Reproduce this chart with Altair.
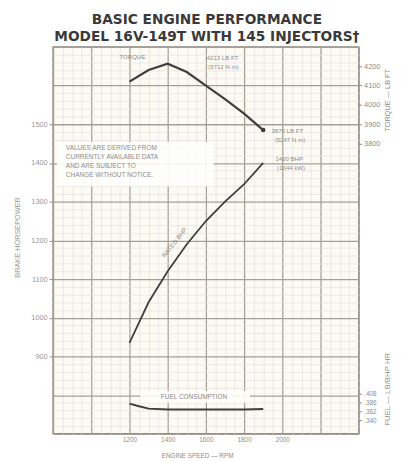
import altair as alt
import pandas as pd

# ---------------- data ----------------
rpm = [1200, 1300, 1400, 1500, 1600, 1700, 1800, 1900]
bhp = [935, 1040, 1120, 1190, 1250, 1300, 1345, 1400]
torque_lbft = [4120, 4180, 4213, 4170, 4100, 4030, 3955, 3870]
fuel_rpm = [1200, 1250, 1300, 1400, 1600, 1800, 1900]
fuel = [0.383, 0.376, 0.370, 0.368, 0.368, 0.368, 0.369]

x_ticks = [1200, 1400, 1600, 1800, 2000]
bhp_ticks = [900, 1000, 1100, 1200, 1300, 1400, 1500]
torque_ticks = [3800, 3900, 4000, 4100, 4200]
fuel_ticks = [0.340, 0.362, 0.386, 0.408]

title_lines = ["BASIC ENGINE PERFORMANCE", "MODEL 16V-149T WITH 145 INJECTORS\u2020"]
note_lines = ["VALUES ARE DERIVED FROM", "CURRENTLY AVAILABLE DATA",
              "AND ARE SUBJECT TO", "CHANGE WITHOUT NOTICE."]

label_text = ["TORQUE", "4213 LB FT", "(5712 N\u00b7m)", "3870 LB FT", "(5247 N\u00b7m)",
              "1400 BHP", "(1044 kW)"]
label_rpm = [1215, 1687, 1692, 2026, 2040, 2036, 2046]
label_bhp = [1675, 1670, 1649, 1482, 1459, 1409, 1387]

# ---------------- styling ----------------
MAJOR = "#a69f98"
MINOR = "#e4dfe4"
TXT = "#8c8c8c"
CURVE = "#3e3e3e"
FONT = "Liberation Sans"

def in_list(vals):
    return "indexof([" + ",".join(str(v) for v in vals) + "], datum.value) >= 0"

X = alt.X(
    "rpm:Q",
    title="ENGINE SPEED \u2014 RPM",
    scale=alt.Scale(domain=[800, 2400], nice=False, zero=False),
    axis=alt.Axis(
        values=list(range(800, 2401, 50)),
        labelExpr=in_list(x_ticks) + " ? datum.label : ''",
        format="d",
        grid=True,
        gridColor={"condition": {"test": "datum.value % 200 === 0", "value": MAJOR}, "value": MINOR},
        gridWidth={"condition": {"test": "datum.value % 200 === 0", "value": 1.3}, "value": 0.7},
        ticks=False, domain=False,
        labelFont=FONT, labelFontSize=6.5, labelColor=TXT, labelPadding=3,
        labelOverlap=False, labelFlush=False,
        titleFont=FONT, titleFontSize=6.5, titleColor=TXT, titleFontWeight="normal",
        titleX=147, titleY=22, titleAlign="center", titleBaseline="middle",
    ),
)

bhp_scale = alt.Scale(domain=[700, 1700], nice=False, zero=False)
Ybhp = alt.Y(
    "bhp:Q",
    title="BRAKE HORSEPOWER",
    scale=bhp_scale,
    axis=alt.Axis(
        orient="left",
        values=list(range(700, 1701, 20)),
        labelExpr=in_list(bhp_ticks) + " ? datum.label : ''",
        format="d",
        grid=True,
        gridColor={"condition": {"test": "datum.value % 100 === 0", "value": MAJOR}, "value": MINOR},
        gridWidth={"condition": {"test": "datum.value % 100 === 0", "value": 1.3}, "value": 0.7},
        tickOpacity={"condition": {"test": in_list(bhp_ticks), "value": 1}, "value": 0},
        tickSize=4, tickColor=TXT, domain=False,
        labelFont=FONT, labelFontSize=7.5, labelColor="#999999", labelPadding=2,
        labelOverlap=False, labelFlush=False,
        titleFont=FONT, titleFontSize=7.5, titleColor="#999999", titleFontWeight="normal",
        titleX=-36, titleY=194, titleAngle=270, titleAlign="center", titleBaseline="middle",
    ),
)
Ybhp_plain = alt.Y("bhp:Q", scale=bhp_scale, axis=None)

bhp_df = pd.DataFrame({"rpm": rpm, "bhp": bhp})
bhp_line = alt.Chart(bhp_df).mark_line(color=CURVE, strokeWidth=1.8).encode(x=X, y=Ybhp)

# note box
note_box = alt.Chart(pd.DataFrame({"rpm": [820], "rpm2": [1641], "bhp": [1340], "bhp2": [1454]})).mark_rect(
    color="#fefefc", opacity=0.9
).encode(x=X, x2="rpm2:Q", y=Ybhp_plain, y2="bhp2:Q")
note_text = alt.Chart(pd.DataFrame({"rpm": [867], "bhp": [1447]})).mark_text(
    align="left", baseline="top", font=FONT, fontSize=6.6, color=TXT, lineHeight=9.3
).encode(x=X, y=Ybhp_plain, text=alt.value(note_lines))

# fuel consumption label box
fuel_box = alt.Chart(pd.DataFrame({"rpm": [1256], "rpm2": [1831], "bhp": [781], "bhp2": [811]})).mark_rect(
    color="#fefefc", opacity=0.9
).encode(x=X, x2="rpm2:Q", y=Ybhp_plain, y2="bhp2:Q")
fuel_text = alt.Chart(pd.DataFrame({"rpm": [1538], "bhp": [796], "t": ["FUEL CONSUMPTION"]})).mark_text(
    align="center", baseline="middle", font=FONT, fontSize=6.6, color=TXT
).encode(x=X, y=Ybhp_plain, text="t:N")

ann_df = pd.DataFrame({"rpm": label_rpm, "bhp": label_bhp, "t": label_text})
ann_text = alt.Chart(ann_df).mark_text(
    align="center", baseline="middle", font=FONT, fontSize=6.2, color=TXT
).encode(x=X, y=Ybhp_plain, text="t:N")

rated_text = alt.Chart(pd.DataFrame({"rpm": [1436], "bhp": [1194], "t": ["RATED BHP"]})).mark_text(
    align="center", baseline="middle", font=FONT, fontSize=6.6, color=TXT, angle=309
).encode(x=X, y=Ybhp_plain, text="t:N")

# torque
torque_df = pd.DataFrame({"rpm": rpm, "torque": torque_lbft})
tq_scale = alt.Scale(domain=[2300, 4300], nice=False, zero=False)
Ytq = alt.Y(
    "torque:Q",
    title="TORQUE \u2014 LB FT",
    scale=tq_scale,
    axis=alt.Axis(
        orient="right", values=torque_ticks, grid=False, domain=False, format="d",
        tickSize=3, tickColor=TXT,
        labelFont=FONT, labelFontSize=7.5, labelColor=TXT, labelPadding=2,
        titleFont=FONT, titleFontSize=7.5, titleColor=TXT, titleFontWeight="normal",
        titleX=29, titleY=54, titleAngle=270, titleAlign="center", titleBaseline="middle",
    ),
)
torque_line = alt.Chart(torque_df).mark_line(color=CURVE, strokeWidth=2.2).encode(x=X, y=Ytq)
torque_end = alt.Chart(torque_df.tail(1)).mark_point(
    color=CURVE, filled=True, size=22, opacity=1
).encode(x=X, y=alt.Y("torque:Q", scale=tq_scale, axis=None))

# fuel
fuel_df = pd.DataFrame({"rpm": fuel_rpm, "fuel": fuel})
Yfuel = alt.Y(
    "fuel:Q",
    title="FUEL \u2014 LB/BHP HR",
    scale=alt.Scale(domain=[0.305, 1.303], nice=False, zero=False),
    axis=alt.Axis(
        orient="right", values=fuel_ticks, grid=False, domain=False,
        labelExpr="replace(format(datum.value, '.3f'), '0.', '.')",
        tickSize=3, tickColor=TXT,
        labelFont=FONT, labelFontSize=6.5, labelColor=TXT, labelPadding=2,
        labelOverlap=False,
        titleFont=FONT, titleFontSize=8, titleColor=TXT, titleFontWeight="normal",
        titleX=29, titleY=349, titleAngle=270, titleAlign="center", titleBaseline="middle",
    ),
)
fuel_line = alt.Chart(fuel_df).mark_line(color=CURVE, strokeWidth=2).encode(x=X, y=Yfuel)

# title (two lines)
title_df = pd.DataFrame({"t": title_lines, "line": [0, 1]})
title_layer = alt.Chart(title_df).mark_text(
    align="center", baseline="middle", font="DejaVu Sans", fontWeight="bold",
    fontSize=14, color="#3a3a3a"
).encode(
    x=alt.value(157),
    y=alt.Y("line:Q", scale=alt.Scale(domain=[0, 1], range=[-27, -10]), axis=None),
    text="t:N",
)

chart = (
    alt.layer(bhp_line, note_box, note_text, fuel_box, fuel_text, ann_text, rated_text,
              torque_line, torque_end, fuel_line, title_layer)
    .resolve_scale(y="independent")
    .properties(
        width=312, height=395,
        padding={"left": 46, "top": 35, "right": 36, "bottom": 21},
        autosize=alt.AutoSizeParams(type="none"),
        background="#ffffff",
    )
    .configure_view(stroke="#8f8780", strokeWidth=1.5, fill="#fcfbf3")
)

chart.save("out.html", embed_options={"renderer": "svg", "actions": False})
